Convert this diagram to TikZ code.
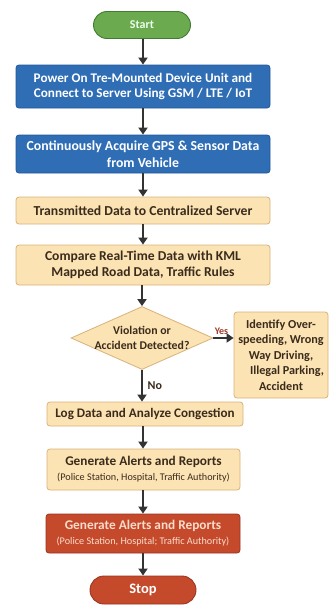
\documentclass[tikz,border=0pt]{standalone}
\usepackage{fontspec}
\setmainfont{Carlito}
\usetikzlibrary{shapes.geometric,shapes.misc,arrows.meta}

\definecolor{startfill}{HTML}{6BAA4E}
\definecolor{startline}{HTML}{3F7D32}
\definecolor{bluefill}{HTML}{2F6EB5}
\definecolor{blueline}{HTML}{23579A}
\definecolor{tanfill}{HTML}{FBE3B4}
\definecolor{tanline}{HTML}{D8B27A}
\definecolor{tantext}{HTML}{3B2B1C}
\definecolor{redfill}{HTML}{C54A2C}
\definecolor{redline}{HTML}{9A3520}
\definecolor{redtext}{HTML}{F9DCCB}
\definecolor{arrowcol}{HTML}{333333}
\definecolor{yescol}{HTML}{A03A2A}

\newcommand\subline[1]{{\fontsize{10.2}{12}\selectfont\mdseries #1}}
\newcommand\fs[2]{\fontsize{#1}{#2}\selectfont\bfseries}

\tikzset{
  base/.style={rounded corners=3pt, line width=0.8pt, align=center, inner sep=0pt,
    font=\fs{13.3}{16}},
  bluebox/.style={base, fill=bluefill, draw=blueline, text=white},
  tanbox/.style={base, fill=tanfill, draw=tanline, text=tantext},
  redbox/.style={base, fill=redfill, draw=redline, text=redtext},
  terminal/.style={rounded rectangle, line width=0.9pt, inner sep=0pt},
  flow/.style={draw=arrowcol, line width=2.6pt, -{Triangle[width=9pt,length=7pt]}}
}

\begin{document}
\begin{tikzpicture}[x=1pt,y=-1pt]
\useasboundingbox (0,0) rectangle (329,605);

\node[terminal, fill=startfill, draw=startline, text=white!92!green, font=\fs{12}{14},
      minimum width=97pt, minimum height=27pt] (start) at (142,25) {Start};

\node[bluebox, minimum width=254pt, minimum height=43pt, font=\fs{13.2}{14.5}] (power) at (143,86.5)
  {Power On Tre-Mounted Device Unit and\\Connect to Server Using GSM / LTE / IoT};

\node[bluebox, minimum width=254pt, minimum height=38pt, font=\fs{13.8}{17}] (acquire) at (143,154)
  {Continuously Acquire GPS \& Sensor Data\\from Vehicle};

\node[tanbox, minimum width=254pt, minimum height=27pt, font=\fs{13.7}{16}] (transmit) at (143,210.5)
  {Transmitted Data to Centralized Server};

\node[tanbox, minimum width=254pt, minimum height=40pt, font=\fs{13.6}{16.5}] (compare) at (143,265)
  {Compare Real-Time Data with KML\\Mapped Road Data, Traffic Rules};

\node[diamond, fill=tanfill, draw=tanline, line width=0.8pt, inner sep=0pt,
      minimum width=142pt, minimum height=63pt] (decide) at (142,338) {};
\node[font=\fs{11.8}{15.5}, text=tantext, align=center]
  (decidetext) at (decide) {Violation or\\Accident Detected?};

\node[tanbox, minimum width=94pt, minimum height=86pt, font=\fs{12.2}{15.5}] (identify) at (281,355)
  {Identify Over-\\speeding, Wrong\\Way Driving,\hspace*{12pt}\\\hspace*{12pt}Illegal Parking,\\Accident};

\node[tanbox, minimum width=196pt, minimum height=24pt, font=\fs{13.1}{16}] (log) at (145,414)
  {Log Data and Analyze Congestion};

\node[tanbox, minimum width=193pt, minimum height=41pt] (alerts) at (143.5,469.5)
  {Generate Alerts and Reports\\[-1pt]\subline{(Police Station, Hospital, Traffic Authority)}};

\node[redbox, minimum width=194pt, minimum height=39pt] (alertsred) at (143,533.5)
  {Generate Alerts and Reports\\[-1pt]\subline{(Police Station, Hospital; Traffic Authority)}};

\node[terminal, fill=redfill, draw=redline, text=white, font=\fs{14.5}{16},
      minimum width=106pt, minimum height=28pt] (stop) at (143,590) {Stop};

% main flow
\draw[flow] (start.south -| 143,0) -- (power.north -| 143,0);
\draw[flow] (power.south -| 143,0) -- (acquire.north -| 143,0);
\draw[flow] (acquire.south -| 143,0) -- (transmit.north -| 143,0);
\draw[flow] (transmit.south -| 143,0) -- (compare.north -| 143,0);
\draw[flow] (compare.south -| 142,0) -- (decide.north);
\draw[flow] (decide.east) -- (identify.west |- decide.east)
  node[pos=0.4, above=-1pt, text=yescol, font=\fs{10}{11}] {Yes};
\draw[flow] (decide.south) -- (log.north -| decide.south)
  node[midway, right=1pt, text=tantext, font=\fs{12}{13}] {No};
\draw[flow] (log.south -| 143,0) -- (alerts.north -| 143,0);
\draw[flow] (alerts.south -| 143,0) -- (alertsred.north -| 143,0);
\draw[flow] (alertsred.south -| 143,0) -- (stop.north -| 143,0);
\end{tikzpicture}
\end{document}
